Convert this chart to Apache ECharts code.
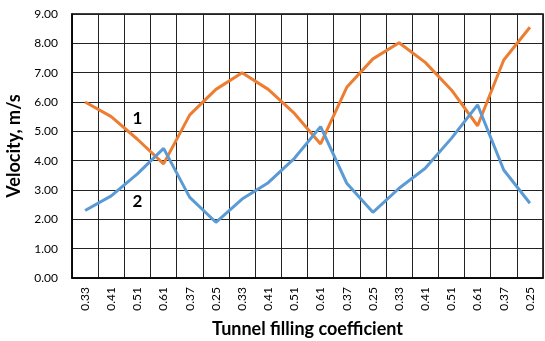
<!DOCTYPE html>
<html><head><meta charset="utf-8">
<script src="https://cdn.jsdelivr.net/npm/echarts@6/dist/echarts.min.js"></script>
<style>html,body{margin:0;padding:0;background:#fff}#c{width:545px;height:341px}</style>
</head><body><div id="c"></div>
<script>
const categories = ["0.33","0.41","0.51","0.61","0.37","0.25","0.33","0.41","0.51","0.61","0.37","0.25","0.33","0.41","0.51","0.61","0.37","0.25"];
const series1 = [6.00,5.50,4.73,3.89,5.56,6.43,7.00,6.43,5.61,4.57,6.50,7.47,8.02,7.35,6.41,5.19,7.43,8.55];
const series2 = [2.30,2.80,3.55,4.42,2.75,1.90,2.69,3.25,4.08,5.16,3.23,2.24,3.06,3.74,4.76,5.90,3.68,2.55];
const yTicks = {min:0, max:9, interval:1};
const seriesNames = ["1","2"];

const chart = echarts.init(document.getElementById('c'), null, {renderer:'canvas'});
const FONT = 'Lato';
chart.setOption({
  animation:false,
  grid:{left:72, right:2, top:14, bottom:63, containLabel:false, outerBoundsMode:'none', show:true, borderColor:'#000', borderWidth:1.5},
  xAxis:{
    type:'category', data:categories, boundaryGap:true,
    name:'Tunnel filling coefficient', nameLocation:'middle', nameGap:42,
    nameTextStyle:{fontFamily:FONT, fontWeight:'bold', fontSize:18, color:'#000'},
    axisLine:{show:true, lineStyle:{color:'#000', width:1.5}},
    axisTick:{show:false},
    axisLabel:{rotate:90, fontFamily:FONT, fontSize:12, color:'#000', margin:9, interval:0},
    splitLine:{show:true, interval:0, lineStyle:{color:'#222', width:1}}
  },
  yAxis:{
    type:'value', min:yTicks.min, max:yTicks.max, interval:yTicks.interval,
    name:'Velocity, m/s', nameLocation:'middle', nameGap:47,
    nameTextStyle:{fontFamily:FONT, fontWeight:'bold', fontSize:18, color:'#000'},
    axisLine:{show:true, lineStyle:{color:'#000', width:1.5}},
    axisTick:{show:false},
    axisLabel:{fontFamily:FONT, fontSize:12, color:'#000', margin:14, formatter:v=>v.toFixed(2)},
    splitLine:{show:true, lineStyle:{color:'#222', width:1}}
  },
  series:[
    {name:seriesNames[0], type:'line', data:series1, symbol:'none', lineStyle:{color:'#ED7D31', width:3}, itemStyle:{color:'#ED7D31'},
     markPoint:{symbol:'circle', symbolSize:0, data:[{coord:[2,5.45], value:'1'}],
       label:{show:true, position:'inside', formatter:'1', fontFamily:FONT, fontWeight:'bold', fontSize:17, color:'#000'}}},
    {name:seriesNames[1], type:'line', data:series2, symbol:'none', lineStyle:{color:'#5B9BD5', width:3}, itemStyle:{color:'#5B9BD5'},
     markPoint:{symbol:'circle', symbolSize:0, data:[{coord:[1.7,2.62], value:'2'}],
       label:{show:true, position:'inside', formatter:'2', fontFamily:FONT, fontWeight:'bold', fontSize:17, color:'#000'}}}
  ]
});
</script></body></html>
